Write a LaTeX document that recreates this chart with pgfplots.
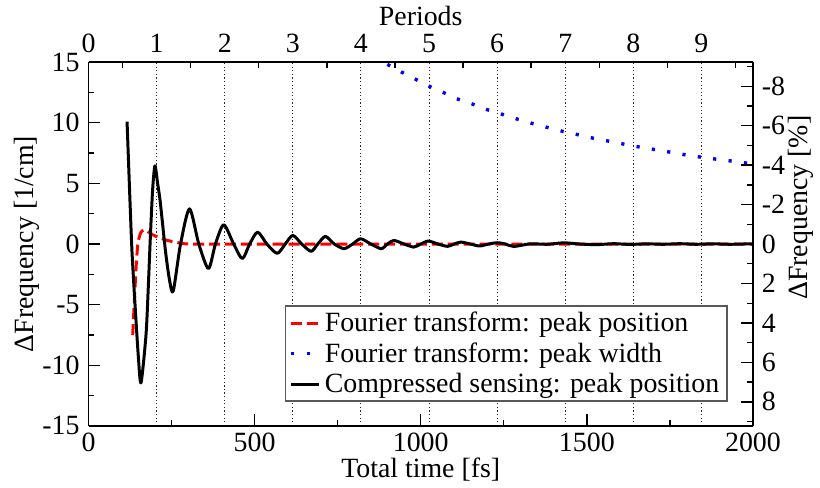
\documentclass[border=0pt]{standalone}
\usepackage{fontspec}
\setmainfont{Liberation Serif}
\usepackage{pgfplots}
\pgfplotsset{compat=1.18}
\pgfplotstableread{
t v
116 10.1
125 3.4
131 -0.7
140 -5.0
150 -9.3
158 -11.45
173 -7.5
180 -3.5
186 0.5
193 4.5
200 6.45
208 5.0
216 3.45
232 -0.66
244 -3.0
255 -3.88
277 0.0
304 2.9
332 0.0
361 -2.02
382 0.0
407 1.59
437 0.0
463 -1.2
485 0.0
509 0.98
537 0.0
568 -0.77
592 0.0
615 0.71
642 0.0
670 -0.6
690 0.0
713 0.63
740 0.0
769 -0.38
795 0.0
819 0.44
850 0.0
881 -0.38
900 0.0
919 0.3
950 0.0
979 -0.25
1000 0.0
1023 0.25
1052 0.0
1081 -0.19
1100 0.0
1121 0.16
1150 0.0
1177 -0.16
1204 0.0
1230 0.11
1255 0.0
1280 -0.2
1330 0.02
1380 -0.02
1430 0.1
1480 0.0
1530 -0.05
1580 0.03
1630 -0.03
1680 0.02
1730 -0.02
1780 0.03
1830 -0.02
1880 0.02
1930 -0.02
1980 0.01
2000 0.0
}\cs
\pgfplotstableread{
t v
133 -7.5
138 -4.7
143 -2.0
148 -0.1
153 0.6
158 0.98
165 1.15
172 1.15
180 1.0
188 0.85
198 0.7
237 0.3
287 0.03
340 0.0
500 0.0
1000 0.0
1500 0.0
2000 0.0
}\ftpos
\pgfplotstableread{
t v
860 15.5
894 14.9
936 14.27
979 13.67
1021 13.07
1064 12.55
1107 12.0
1153 11.57
1198 11.1
1243 10.72
1290 10.31
1335 9.95
1381 9.62
1428 9.29
1473 9.02
1521 8.72
1569 8.47
1614 8.23
1662 7.98
1710 7.77
1757 7.55
1802 7.33
1850 7.14
1898 6.97
1946 6.81
1991 6.64
2000 6.62
}\ftwidth
\begin{document}
\begin{tikzpicture}[font=\fontsize{14}{16.8}\selectfont]
\pgfplotsset{
  base/.style={
    scale only axis, width=334pt, height=182.85pt,
    tick align=inside,
    major tick length=6pt, minor tick length=3pt,
    every tick/.style={black, line width=0.7pt},
    axis line style={line width=0.9pt},
    tick label style={font=\fontsize{14}{16.8}\selectfont},
    label style={font=\fontsize{14}{16.8}\selectfont},
  }
}
% top axis: periods
\begin{axis}[base,
  xmin=0, xmax=9.756, ymin=0, ymax=1,
  axis x line*=top, hide y axis,
  xtick={0,1,2,3,4,5,6,7,8,9}, xticklabels={0,1,2,3,4,5,6,7,8,9},
  minor xtick={0.5,1.5,2.5,3.5,4.5,5.5,6.5,7.5,8.5,9.5},
  major tick length=0pt,
  xmajorgrids,
  major grid style={black!85, line width=0.5pt, dash pattern=on 0.6pt off 1.2pt},
  xlabel={Periods},
  xlabel style={at={(axis description cs:0.5,1)}, anchor=center, yshift=23pt},
  xticklabel style={anchor=center, yshift=9.5pt},
]
\end{axis}
% main axis
\begin{axis}[base, name=main,
  xmin=0, xmax=2000, ymin=-15, ymax=15,
  axis x line*=bottom, axis y line*=left,
  xtick={0,500,1000,1500,2000}, xticklabels={0,500,1000,1500,2000},
  minor xtick={250,750,1250,1750},
  ytick={-15,-10,-5,0,5,10,15}, yticklabels={-15,-10,-5,0,5,10,15},
  minor ytick={-12.5,-7.5,-2.5,2.5,7.5,12.5},
  xlabel={Total time [fs]},
  xlabel style={at={(axis description cs:0.5,0)}, anchor=center, yshift=-22pt},
  ylabel={ΔFrequency [1/cm]},
  ylabel style={at={(axis description cs:-0.0928,0.5)}, anchor=center},
  xticklabel style={anchor=center, yshift=-8.3pt},
  yticklabel style={anchor=east, xshift=-1pt},
  legend cell align=left,
  legend image code/.code={\draw[#1] (0pt,0pt) -- (14pt,0pt);},
  legend style={at={(1,0)}, anchor=south east, xshift=-12.5pt, yshift=12pt,
    draw=black!65, line width=0.8pt, fill=white, inner xsep=2pt, inner ysep=1pt,
    row sep=0pt,
    font=\fontsize{14}{16.8}\selectfont},
]
\addplot[red, line width=1.5pt, dash pattern=on 5.5pt off 2.5pt, smooth, tension=0.4] table[x=t, y=v] {\ftpos};
\addlegendentry{Fourier transform: peak position}
\addplot[blue, line width=1.7pt, dash pattern=on 1.6pt off 6.2pt] table[x=t, y=v] {\ftwidth};
\addlegendentry{Fourier transform: peak width}
\addplot[black, line width=1.5pt, smooth, tension=0.45, line join=round] table[x=t, y=v] {\cs};
\addlegendentry{Compressed sensing: peak position}
\end{axis}
% right axis: percent
\begin{axis}[base,
  xmin=0, xmax=1, ymin=-9.22, ymax=9.22, y dir=reverse,
  axis y line*=right, hide x axis,
  ytick={-8,-6,-4,-2,0,2,4,6,8}, yticklabels={-8,-6,-4,-2,0,2,4,6,8},
  minor ytick={-9,-7,-5,-3,-1,1,3,5,7,9},
  ylabel={ΔFrequency [\%]},
  ylabel style={at={(axis description cs:1.0719,0.6)}, anchor=center, rotate=0},
  yticklabel style={anchor=west, xshift=1pt},
]
\end{axis}
\path ([shift={(-44.5pt,-31pt)}]main.south west) rectangle ([shift={(31.5pt,29.65pt)}]main.north east);
\end{tikzpicture}
\end{document}
